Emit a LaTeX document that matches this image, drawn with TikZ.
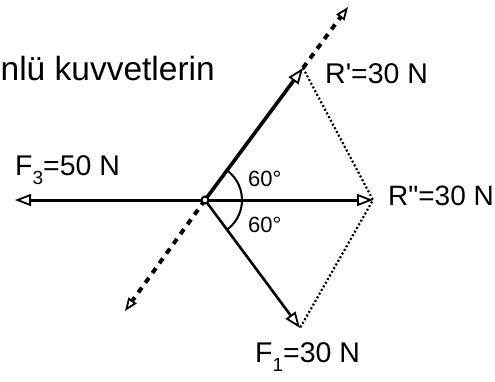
\documentclass[tikz,border=0pt]{standalone}
\usepackage{fontspec}
\setmainfont{Liberation Sans}
\usetikzlibrary{arrows.meta}
\newcommand\lowsub[1]{\raisebox{-0.32em}{\fontsize{19}{19}\selectfont #1}}
\begin{document}
\begin{tikzpicture}[x=1pt,y=-1pt,
  lbl/.style={inner sep=0pt,font=\fontsize{28.5}{30}\selectfont},
  anglbl/.style={inner sep=0pt,font=\fontsize{22}{24}\selectfont},
  force/.style={-{Triangle[open,length=16pt,width=12pt,line width=1.8pt]},line width=3pt},
  dashline/.style={-{Triangle[open,length=13pt,width=10pt,line width=1.8pt]},line width=4pt,dash pattern=on 6pt off 6pt},
  dotline/.style={line width=2.2pt,dash pattern=on 2pt off 2.2pt}]
\useasboundingbox (0,0) rectangle (495,381);
\fill[white] (0,0) rectangle (495,381);
\coordinate (O) at (205,200);
\coordinate (Rp) at (303,68);
\coordinate (Rpp) at (373,200);
\coordinate (F1) at (300,328);
\coordinate (F3) at (15,200);
\coordinate (Dup) at (348,7);
\coordinate (Ddn) at (125,311);
% dashed line through O
\draw[dashline] (Rp) -- (Dup);
\draw[dashline] (O) -- (Ddn);
% dotted parallelogram sides
\draw[dotline] (Rp) -- (Rpp) -- (F1);
% forces
\draw[force,line width=3.6pt] (O) -- (Rp);
\draw[force] (O) -- (Rpp);
\draw[force,line width=2.6pt] (O) -- (F1);
\draw[force] (O) -- (F3);
% angle arc
\draw[line width=2pt] (O) ++(-53.5:37) arc[start angle=-53.5,end angle=53.5,radius=37];
\draw[line width=2pt,fill=white] (O) circle (3.5);
% labels
\node[inner sep=0pt,anchor=base east,font=\fontsize{33.5}{36}\selectfont] (top) at (215,80) {nlü kuvvetlerin};
\node[lbl,anchor=base west] (lRp) at (325,83) {R\textquotesingle=30 N};
\node[lbl,anchor=base west,font=\fontsize{28}{30}\selectfont] (lRpp) at (388,205) {R\textquotedbl=30 N};
\node[lbl,anchor=base west] (lF1) at (255,362) {F\lowsub{1}=30 N};
\node[lbl,anchor=base west] (lF3) at (15,175) {F\lowsub{3}=50 N};
\node[anglbl,anchor=base west] (a1) at (248,186) {60°};
\node[anglbl,anchor=base west] (a2) at (248,232) {60°};
\end{tikzpicture}
\end{document}
